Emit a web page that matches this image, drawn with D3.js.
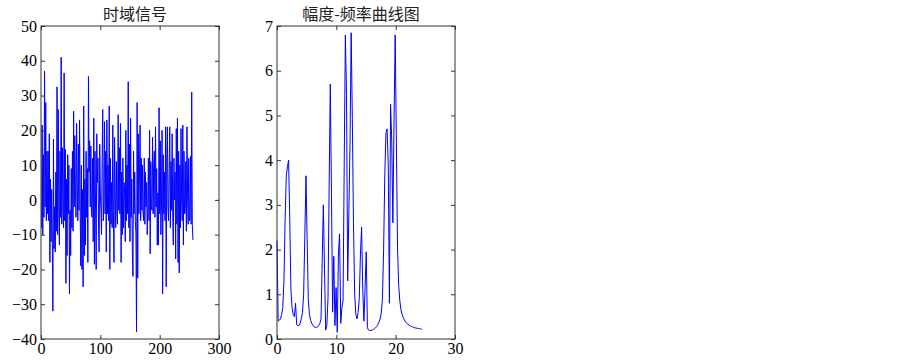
<!DOCTYPE html>
<html>
<head>
<meta charset="utf-8">
<script src="https://cdn.jsdelivr.net/npm/d3@7"></script>
<style>
  body { margin: 0; background: #fff; }
  .tick text { font-family: "Liberation Serif", "Times New Roman", serif; font-size: 16px; fill: #000; }
  .tick line { stroke: #333; }
  .title { font-family: "Noto Sans CJK SC", sans-serif; font-size: 16px; fill: #222; }
</style>
</head>
<body>
<svg id="canvas" width="903" height="361"></svg>
<script>
// time domain signal, sample index 1..256
const timeSignal = [
  -8, 21.5, -10, 13, -5, 37, -2, 28, -6, 14,
  -4, 14, -6, 19, -18, 6, -12, 3, -11, -32,
  17.5, -14, -2, -15, 8, -9, 32.5, -10, 26, -3,
  -13, 14, -5, 41, -7, 15, -3, -8, 36.5, -6,
  14.5, -24, 6, -16, 13, -4, 10, -27, -3, -16,
  9, -8, 14, -9, 25.5, -2, 18.5, 3, -5, 22,
  5, -6, 16, -3, 23, -2, -19, 10, -20, 3,
  -25, 27, -16, 6, -13, 14, -5, 9, -18, 35.5,
  8, 17, -2, 15.5, -4, -5, 12, -12, 23.5, -18.5,
  14, -3, -20, 19, 5, 12, -8, -15, 16, 2,
  -3, -10, 11, 26, -6, 0, 22.5, -4, 14, -15,
  23, -4, 10, -6, 27, -20, 12, -7, 5, -8,
  21.5, -3, -18, 18, 2, -8, 11, -4, -7, 24.5,
  -3, 15, -4, 22, -18, 8, -10, 12, -8, 5,
  2, -12, 20, -6, 10, -4, 34, -8, 16, -12,
  23.5, -5, 6, -15, -22, 14, -4, 8, -6, -10,
  -38, 28, -22.5, 19, -4, 8, 21.5, -6, 12, -3,
  10, -4, -6, 12, -7, 8, -2, 5, -10, -2,
  12, -6, 20, -15.5, 11, -2, -3, 18, -4, 10,
  14, -5, 21, -2, 9, -13, 2, -13, 26.5, -4,
  17, -10, -2, 20, -27, 13, -4, 8, -6, 21,
  -25, 13, 21, -2, -6, 9, 21, -8, 11, -3,
  19, -5, -13, 12, 0, 8, -17, 20.5, -7, 23.5,
  -18, 14, -21, 10, -8, 20.5, 0, -6, 21.5, -13,
  14, -4, -3, 11, -9, 21, 2, -7, 12, -6,
  -5, 12.5, -7, 31, -7, -11.5
];

// amplitude spectrum, one value per frequency bin (bin width = 50/256 Hz)
const freqStep = 50 / 256;
const amplitude = [
  2.2, 0.4, 0.42, 0.45, 0.55, 0.7, 1.3, 2.65, 3.65, 3.85,
  4.0, 2.7, 1.1, 0.7, 0.55, 0.5, 0.8, 0.32, 0.3, 0.3,
  0.35, 0.45, 0.6, 1.0, 2.3, 3.65, 2.25, 0.9, 0.55, 0.42,
  0.35, 0.3, 0.27, 0.26, 0.26, 0.27, 0.3, 0.35, 0.45, 1.75,
  3.0, 1.55, 0.2, 0.3, 0.9, 3.45, 5.7, 3.25, 0.6, 1.85,
  0.3, 1.15, 0.15, 1.9, 2.35, 0.35, 0.7, 0.85, 3.9, 6.8,
  5.45, 1.3, 2.8, 4.35, 6.85, 4.95, 2.6, 1.0, 0.55, 0.45,
  0.6, 0.9, 1.9, 2.5, 1.1, 0.4, 1.15, 1.95, 0.25, 0.2,
  0.19, 0.19, 0.2, 0.21, 0.23, 0.25, 0.28, 0.32, 0.38, 0.45,
  0.6, 0.9, 2.0, 3.65, 4.6, 4.7, 3.9, 0.8, 5.25, 4.45,
  2.6, 4.9, 6.8, 4.4, 2.05, 1.2, 0.85, 0.65, 0.55, 0.48,
  0.42, 0.38, 0.35, 0.33, 0.31, 0.29, 0.28, 0.27, 0.26, 0.25,
  0.245, 0.24, 0.235, 0.23, 0.225, 0.22
];

const timeTicksX = [0, 100, 200, 300];
const timeTicksY = [-40, -30, -20, -10, 0, 10, 20, 30, 40, 50];
const freqTicksX = [0, 10, 20, 30];
const freqTicksY = [0, 1, 2, 3, 4, 5, 6, 7];

const titles = ["时域信号", "幅度-频率曲线图"];

let svg = d3.select("#canvas");
let plotW = 178, plotH = 313, plotTop = 26;

function panel(left, points, xDomain, yDomain, xTicks, yTicks, title, titleX){
    let g = svg.append("g").attr("transform", "translate(" + left + "," + plotTop + ")");

    let x = d3.scaleLinear().domain(xDomain).range([0, plotW]);
    let y = d3.scaleLinear().domain(yDomain).range([plotH, 0]);

    //the curve
    let line = d3.line().x(d => x(d[0])).y(d => y(d[1]));
    g.append("path")
        .datum(points)
        .attr("fill", "none")
        .attr("stroke", "#0000ff")
        .attr("stroke-width", 1)
        .attr("d", line);

    //axes with inward ticks on all four sides
    let fmt = d3.format("");
    g.append("g").attr("transform", "translate(0," + plotH + ")")
        .call(d3.axisBottom(x).tickValues(xTicks).tickFormat(fmt).tickSizeInner(-4).tickSizeOuter(0).tickPadding(4));
    g.append("g")
        .call(d3.axisLeft(y).tickValues(yTicks).tickFormat(fmt).tickSizeInner(-4).tickSizeOuter(0).tickPadding(4));
    g.append("g")
        .call(d3.axisTop(x).tickValues(xTicks).tickFormat("").tickSizeInner(-4).tickSizeOuter(0));
    g.append("g").attr("transform", "translate(" + plotW + ",0)")
        .call(d3.axisRight(y).tickValues(yTicks).tickFormat("").tickSizeInner(-4).tickSizeOuter(0));
    g.selectAll(".domain").remove();

    //box
    g.append("rect")
        .attr("width", plotW).attr("height", plotH)
        .attr("fill", "none").attr("stroke", "#333").attr("stroke-width", 1);

    svg.append("text")
        .attr("class", "title")
        .attr("x", titleX).attr("y", 20)
        .attr("text-anchor", "middle")
        .text(title);
}

panel(41, timeSignal.map((v, i) => [i + 1, v]), [0, 300], [-40, 50], timeTicksX, timeTicksY, titles[0], 135);
panel(277, amplitude.map((v, i) => [i * freqStep, v]), [0, 30], [0, 7], freqTicksX, freqTicksY, titles[1], 361);
</script>
</body>
</html>
